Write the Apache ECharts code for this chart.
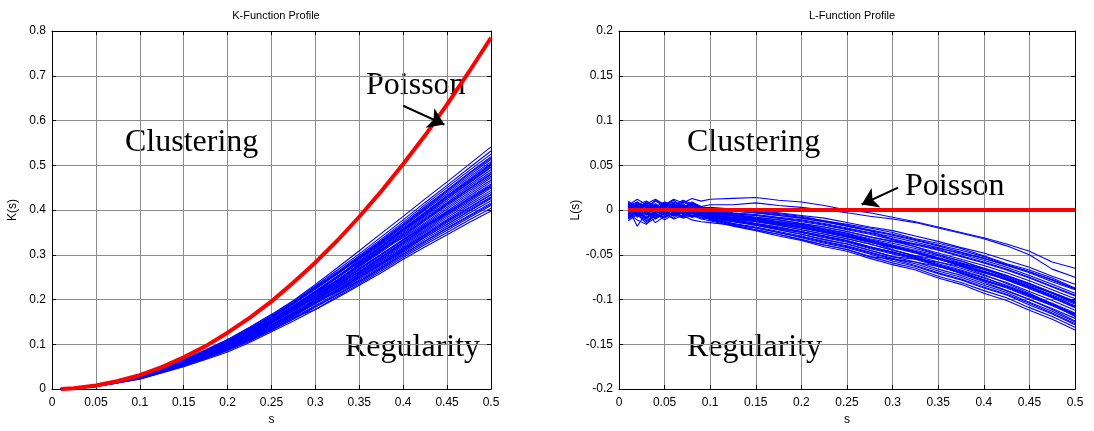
<!DOCTYPE html>
<html><head><meta charset="utf-8">
<script src="https://cdn.jsdelivr.net/npm/echarts/dist/echarts.min.js"></script>
<style>html,body{margin:0;padding:0;background:#fff}#c{width:1094px;height:431px}</style>
</head><body><div id="c"></div><script>
// ---------- K-function data ----------
const kS = [0.01,0.025,0.05,0.075,0.1,0.125,0.15,0.175,0.2,0.225,0.25,0.275,0.3,0.325,0.35,0.375,0.4,0.425,0.45,0.475,0.5];
const kPoisson = [0,.002,.008,.018,.031,.049,.071,.096,.126,.159,.196,.238,.283,.332,.385,.442,.503,.567,.636,.709,.785];
const K01 = [0,.002,.008,.017,.032,.048,.066,.088,.111,.138,.167,.198,.234,.271,.309,.348,.386,.425,.463,.502,.541];
const K02 = [0,.002,.008,.017,.031,.047,.064,.086,.108,.135,.163,.194,.228,.257,.292,.328,.365,.403,.440,.477,.513];
const K03 = [0,.002,.008,.017,.030,.046,.063,.084,.106,.132,.160,.190,.228,.262,.298,.335,.373,.412,.450,.488,.525];
const K04 = [0,.002,.008,.017,.029,.045,.062,.083,.104,.130,.157,.187,.219,.253,.287,.323,.359,.396,.432,.469,.504];
const K05 = [0,.002,.008,.017,.030,.046,.063,.084,.106,.132,.160,.190,.223,.257,.292,.324,.357,.394,.431,.466,.502];
const K06 = [0,.002,.008,.017,.029,.044,.061,.081,.102,.128,.155,.184,.216,.249,.290,.326,.362,.400,.436,.473,.508];
const K07 = [0,.002,.007,.017,.029,.044,.061,.081,.102,.128,.155,.184,.216,.249,.282,.317,.353,.389,.425,.460,.495];
const K08 = [0,.002,.007,.016,.028,.044,.060,.080,.101,.125,.152,.186,.218,.251,.285,.320,.356,.393,.429,.465,.500];
const K09 = [0,.002,.007,.016,.028,.044,.060,.080,.101,.125,.152,.181,.212,.244,.278,.312,.347,.383,.417,.452,.485];
const K10 = [0,.002,.008,.017,.029,.044,.061,.081,.102,.128,.155,.184,.216,.242,.276,.309,.344,.380,.414,.448,.481];
const K11 = [0,.002,.007,.016,.028,.043,.059,.078,.099,.123,.150,.178,.209,.240,.273,.306,.341,.376,.410,.443,.476];
const K12 = [0,.002,.007,.016,.028,.044,.060,.080,.101,.125,.152,.181,.212,.244,.278,.312,.338,.372,.406,.439,.472];
const K13 = [0,.002,.007,.016,.027,.042,.058,.077,.097,.121,.147,.175,.205,.236,.268,.301,.335,.369,.402,.435,.467];
const K14 = [0,.002,.007,.016,.028,.043,.059,.078,.099,.123,.150,.178,.203,.234,.266,.299,.332,.366,.398,.431,.463];
const K15 = [0,.002,.007,.016,.026,.041,.057,.076,.095,.119,.144,.172,.201,.232,.263,.296,.329,.362,.394,.427,.458];
const K16 = [0,.002,.007,.016,.027,.042,.058,.077,.097,.121,.147,.175,.205,.236,.260,.293,.326,.358,.390,.422,.453];
const K17 = [0,.001,.007,.015,.026,.040,.056,.074,.093,.117,.142,.169,.198,.228,.258,.290,.323,.355,.387,.418,.449];
const K18 = [0,.002,.007,.016,.026,.041,.057,.076,.095,.119,.144,.168,.196,.226,.256,.288,.320,.352,.383,.414,.444];
const K19 = [0,.001,.006,.015,.025,.040,.055,.073,.092,.114,.139,.166,.194,.223,.254,.285,.317,.349,.379,.410,.439];
const K20 = [0,.001,.007,.015,.026,.040,.056,.074,.093,.117,.142,.169,.198,.228,.258,.282,.314,.346,.376,.406,.435];
const K21 = [0,.001,.006,.015,.025,.039,.054,.071,.090,.112,.137,.163,.191,.219,.249,.279,.311,.342,.372,.401,.430];
const K22 = [0,.001,.006,.015,.025,.040,.055,.073,.092,.114,.139,.166,.194,.217,.247,.277,.308,.339,.368,.397,.426];
const K23 = [0,.001,.006,.015,.024,.038,.053,.070,.088,.110,.134,.160,.187,.215,.244,.274,.305,.335,.364,.393,.421];
const K24 = [0,.001,.006,.015,.025,.039,.054,.071,.090,.112,.137,.163,.191,.219,.241,.271,.302,.331,.360,.388,.416];
const K25 = [0,.001,.006,.014,.023,.037,.052,.068,.086,.107,.131,.156,.183,.210,.238,.267,.298,.327,.355,.383,.410];
const K26 = [0,.001,.006,.015,.024,.038,.053,.070,.088,.110,.134,.160,.178,.204,.232,.260,.290,.318,.345,.372,.398];
const K27 = [0,.001,.006,.014,.022,.036,.050,.066,.083,.104,.128,.152,.178,.207,.235,.264,.294,.323,.350,.378,.404];
const K28 = [0,.002,.007,.016,.028,.043,.059,.078,.099,.123,.150,.178,.209,.240,.280,.315,.350,.386,.421,.456,.490];
const K29 = [0,.002,.008,.017,.029,.044,.061,.081,.102,.128,.162,.192,.226,.260,.295,.332,.369,.408,.445,.483,.519];
const K30 = [0,.001,.006,.015,.025,.040,.054,.072,.091,.113,.138,.164,.192,.221,.252,.280,.309,.340,.368,.398,.428];
const K31 = [0,.002,.008,.017,.031,.047,.065,.087,.110,.137,.165,.196,.231,.266,.302,.340,.378,.417,.455,.494,.532];
const K32 = [0,.002,.007,.016,.028,.043,.060,.079,.100,.124,.151,.180,.211,.243,.275,.309,.344,.379,.413,.447,.480];
const K33 = [0,.002,.007,.016,.027,.041,.056,.075,.094,.118,.143,.171,.200,.231,.262,.294,.328,.361,.392,.422,.452];
const K34 = [0,.001,.006,.015,.025,.039,.055,.072,.091,.113,.138,.165,.193,.221,.251,.282,.313,.345,.375,.404,.434];
const K35 = [0,.001,.006,.014,.023,.037,.052,.069,.087,.108,.132,.158,.185,.212,.241,.270,.301,.331,.359,.386,.413];
const K36 = [0,.002,.007,.017,.028,.044,.061,.080,.102,.127,.154,.183,.215,.248,.283,.318,.355,.390,.426,.462,.497];
const K37 = [0,.002,.007,.016,.027,.042,.058,.077,.097,.121,.148,.176,.206,.238,.270,.302,.333,.364,.395,.425,.455];
const K38 = [0,.002,.008,.017,.030,.046,.063,.085,.107,.133,.161,.192,.225,.259,.294,.330,.367,.405,.443,.481,.516];
const kSims = [K01,K02,K03,K04,K05,K06,K07,K08,K09,K10,K11,K12,K13,K14,K15,K16,K17,K18,K19,K20,
  K21,K22,K23,K24,K25,K26,K27,K28,K29,K30,K31,K32,K33,K34,K35,K36,K37,K38];

// ---------- L-function data ----------
const lS = [0.01,0.02,0.03,0.04,0.05,0.06,0.07,0.08,0.09,0.10,0.125,0.15,0.175,0.2,0.225,0.25,0.275,0.3,0.325,0.35,0.375,0.4,0.425,0.45,0.475,0.5];
const lPoisson = [0,0,0,0,0,0,0,0,0,0,0,0,0,0,0,0,0,0,0,0,0,0,0,0,0,0];
const L01 = [.005,-.003,.008,.002,.006,0,.009,.004,.002,.003,.001,-.001,-.003,-.006,-.009,-.014,-.019,-.023,-.029,-.035,-.042,-.048,-.056,-.064,-.074,-.083];
const L02 = [-.002,.006,.001,.010,.004,.007,.002,.008,.003,.001,0,-.002,-.004,-.007,-.012,-.016,-.020,-.025,-.032,-.037,-.043,-.051,-.060,-.067,-.076,-.087];
const L03 = [.008,-.004,.003,-.001,.007,.003,.010,.005,.001,.002,-.001,-.003,-.006,-.009,-.013,-.018,-.023,-.028,-.034,-.040,-.047,-.054,-.062,-.070,-.080,-.089];
const L04 = [-.006,.002,-.009,-.003,.004,-.002,.005,.001,-.001,0,-.003,-.005,-.008,-.011,-.015,-.020,-.025,-.030,-.036,-.042,-.049,-.056,-.064,-.073,-.083,-.093];
const L05 = [.003,.009,0,.006,-.002,.004,.001,.007,.002,-.002,-.004,-.006,-.009,-.013,-.017,-.022,-.027,-.033,-.039,-.045,-.052,-.059,-.067,-.076,-.086,-.096];
const L06 = [-.009,-.001,-.012,-.005,.002,-.003,.003,-.001,-.004,-.002,-.005,-.008,-.011,-.015,-.019,-.024,-.030,-.035,-.041,-.048,-.055,-.062,-.070,-.079,-.089,-.099];
const L07 = [.007,0,.005,-.004,.003,.008,-.001,.004,0,-.003,-.006,-.009,-.013,-.016,-.021,-.026,-.032,-.037,-.043,-.050,-.057,-.065,-.073,-.082,-.092,-.102];
const L08 = [-.003,.004,-.002,.005,-.005,.001,.006,-.002,.002,-.004,-.007,-.010,-.014,-.018,-.023,-.028,-.034,-.040,-.046,-.053,-.060,-.068,-.076,-.085,-.095,-.105];
const L09 = [.004,-.008,-.002,-.010,-.004,.002,-.003,.003,-.002,-.005,-.008,-.011,-.015,-.019,-.024,-.029,-.035,-.041,-.047,-.054,-.061,-.069,-.077,-.086,-.096,-.107];
const L10 = [-.001,.007,.003,-.003,.006,-.001,.004,0,-.003,-.006,-.009,-.012,-.016,-.020,-.025,-.030,-.036,-.042,-.048,-.055,-.062,-.070,-.078,-.088,-.098,-.109];
const L11 = [.006,-.002,-.008,0,-.006,.003,-.004,.001,-.005,-.006,-.010,-.013,-.017,-.022,-.027,-.032,-.038,-.045,-.051,-.058,-.065,-.073,-.081,-.091,-.101,-.112];
const L12 = [-.005,.003,.007,-.002,.001,-.006,.002,-.003,-.001,-.007,-.011,-.015,-.019,-.024,-.029,-.034,-.041,-.047,-.053,-.061,-.068,-.076,-.084,-.094,-.104,-.115];
const L13 = [.002,-.018,-.003,-.014,-.007,-.003,-.008,-.002,-.006,-.008,-.012,-.016,-.021,-.025,-.031,-.036,-.043,-.049,-.055,-.063,-.070,-.079,-.087,-.097,-.107,-.118];
const L14 = [-.008,0,-.005,.002,-.004,-.009,-.001,-.006,-.003,-.008,-.013,-.017,-.022,-.027,-.033,-.038,-.045,-.052,-.058,-.066,-.073,-.082,-.090,-.100,-.110,-.121];
const L15 = [.009,.002,-.003,.004,-.001,.002,-.005,-.003,-.007,-.009,-.015,-.019,-.024,-.029,-.035,-.040,-.047,-.054,-.060,-.068,-.075,-.084,-.092,-.103,-.113,-.125];
const L16 = [-.004,-.011,-.016,-.004,-.008,-.002,-.007,-.004,-.009,-.010,-.016,-.020,-.025,-.031,-.037,-.042,-.049,-.057,-.063,-.071,-.078,-.087,-.095,-.106,-.116,-.128];
const L17 = [.001,.005,-.004,-.008,-.003,-.006,-.001,-.008,-.005,-.011,-.017,-.022,-.027,-.033,-.039,-.044,-.052,-.059,-.065,-.074,-.081,-.090,-.098,-.109,-.119,-.131];
const L18 = [-.007,-.002,-.009,-.004,-.011,-.005,-.009,-.006,-.010,-.012,-.018,-.023,-.029,-.034,-.041,-.046,-.054,-.061,-.067,-.076,-.083,-.093,-.101,-.112,-.122,-.134];
const L19 = [0,.008,.004,-.001,.005,.011,.003,.006,.002,-.001,-.005,-.008,-.011,-.015,-.019,-.024,-.030,-.035,-.038,-.043,-.048,-.054,-.061,-.069,-.078,-.088];
const L20 = [.010,.003,.007,.012,.006,.009,.004,.005,.002,.001,-.001,-.003,-.006,-.009,-.013,-.018,-.023,-.033,-.041,-.050,-.057,-.065,-.073,-.082,-.092,-.102];
const L21 = [-.010,-.004,-.013,-.006,-.002,-.007,0,-.004,-.006,-.007,-.010,-.013,-.017,-.022,-.027,-.032,-.038,-.045,-.051,-.055,-.060,-.066,-.074,-.083,-.093,-.103];
const L22 = [.002,-.006,.001,.007,0,.004,-.003,.002,-.002,-.004,-.006,-.009,-.013,-.016,-.021,-.026,-.035,-.044,-.052,-.060,-.067,-.075,-.085,-.095,-.106,-.116];
const L23 = [-.006,.003,-.002,-.007,-.001,-.005,.001,-.006,-.008,-.010,-.013,-.017,-.022,-.027,-.033,-.038,-.045,-.052,-.055,-.058,-.063,-.070,-.077,-.086,-.097,-.108];
const L24 = [.005,.012,.006,.001,.008,.003,.007,0,-.002,-.005,-.008,-.011,-.015,-.019,-.024,-.029,-.035,-.041,-.047,-.054,-.063,-.072,-.082,-.093,-.105,-.119];
const L25 = [-.012,-.005,-.015,-.009,-.004,-.010,-.006,-.011,-.013,-.014,-.017,-.022,-.027,-.033,-.039,-.044,-.052,-.055,-.058,-.063,-.070,-.078,-.086,-.095,-.105,-.116];
const L26 = [.003,-.004,.002,-.005,-.009,-.003,-.007,-.002,-.006,-.008,-.011,-.015,-.019,-.024,-.029,-.034,-.041,-.047,-.053,-.062,-.071,-.080,-.090,-.100,-.111,-.124];
const L27 = [.004,.009,.003,.011,.006,.012,.008,.013,.010,.012,.013,.014,.011,.009,.005,0,-.003,-.008,-.013,-.019,-.025,-.031,-.038,-.046,-.058,-.065];
const L28 = [-.002,.006,.010,.004,.009,.005,.011,.007,.004,.006,.006,.008,.005,.003,0,-.003,-.007,-.010,-.014,-.020,-.026,-.032,-.040,-.050,-.066,-.075];
const L29 = [.004,-.005,.006,-.002,.008,.001,-.004,.006,.003,-.001,-.004,-.006,-.009,-.012,-.016,-.021,-.026,-.032,-.038,-.044,-.051,-.058,-.066,-.075,-.085,-.095];
const L30 = [-.004,.002,-.006,.005,-.001,.004,-.005,.002,-.004,-.005,-.009,-.012,-.016,-.020,-.025,-.030,-.036,-.041,-.048,-.055,-.062,-.069,-.078,-.087,-.097,-.108];
const L31 = [.006,-.007,.001,-.009,.003,-.004,-.002,-.007,-.003,-.008,-.012,-.016,-.020,-.025,-.030,-.035,-.042,-.048,-.054,-.062,-.069,-.078,-.086,-.096,-.106,-.117];
const L32 = [-.009,-.003,-.010,-.001,-.006,.001,-.004,-.008,-.006,-.010,-.015,-.020,-.025,-.030,-.036,-.041,-.048,-.055,-.062,-.070,-.077,-.086,-.094,-.104,-.115,-.127];
const L33 = [.006,.001,.009,.003,-.001,.006,.002,.009,.004,.002,-.001,-.003,-.005,-.008,-.012,-.017,-.022,-.027,-.033,-.039,-.045,-.052,-.061,-.069,-.078,-.088];
const L34 = [-.005,.005,-.001,.003,-.003,.006,.002,-.003,.003,-.003,-.006,-.010,-.013,-.017,-.022,-.027,-.033,-.039,-.045,-.051,-.059,-.066,-.075,-.084,-.093,-.104];
const lSims = [L01,L02,L03,L04,L05,L06,L07,L08,L09,L10,L11,L12,L13,L14,L15,L16,L17,
  L18,L19,L20,L21,L22,L23,L24,L25,L26,L27,L28,L29,L30,L31,L32,L33,L34];

// ---------- axis ranges / texts ----------
const sTicks = {min: 0, max: 0.5, interval: 0.05};
const kTicks = {min: 0, max: 0.8, interval: 0.1};
const lTicks = {min: -0.2, max: 0.2, interval: 0.05};
const titles = ['K-Function Profile', 'L-Function Profile'];
const yNames = ['K(s)', 'L(s)'];

const FONT = '"Liberation Sans", Arial, sans-serif';
const SERIF = '"Liberation Serif", "Times New Roman", serif';
const fmt = v => String(Math.round(v * 1000) / 1000);

function mainAxis(gi, range, extra, margin) {
  return Object.assign({
    gridIndex: gi, type: 'value', min: range.min, max: range.max, interval: range.interval,
    axisLine: {show: true, onZero: false, lineStyle: {color: '#000', width: 1}},
    axisTick: {show: true, inside: true, length: 4, lineStyle: {color: '#000'}},
    axisLabel: {show: true, color: '#000', fontSize: 12, fontFamily: FONT, margin: margin, formatter: fmt},
    splitLine: {show: true, lineStyle: {color: '#8c8c8c', width: 1}}
  }, extra);
}
function boxAxis(gi, range, pos) {
  return {
    gridIndex: gi, type: 'value', position: pos, min: range.min, max: range.max, interval: range.interval,
    axisLine: {show: true, onZero: false, lineStyle: {color: '#000', width: 1}},
    axisTick: {show: true, inside: true, length: 4, lineStyle: {color: '#000'}},
    axisLabel: {show: false}, splitLine: {show: false}
  };
}
const nameStyle = {color: '#000', fontSize: 12, fontFamily: FONT};

const series = [];
kSims.forEach(a => series.push({
  type: 'line', xAxisIndex: 0, yAxisIndex: 0, data: kS.map((s, i) => [s, a[i]]),
  symbol: 'none', lineStyle: {color: '#0000ff', width: 1.1}, silent: true, z: 2
}));
series.push({
  type: 'line', xAxisIndex: 0, yAxisIndex: 0, data: kS.map((s, i) => [s, kPoisson[i]]),
  symbol: 'none', lineStyle: {color: '#ff0000', width: 4}, silent: true, z: 3,
  markLine: {
    silent: true, symbol: ['none', 'arrow'], symbolSize: 16, animation: false,
    label: {show: false}, lineStyle: {color: '#000', width: 2, type: 'solid'},
    data: [[{coord: [0.400, 0.633]}, {coord: [0.447, 0.591]}]]
  }
});
lSims.forEach(a => series.push({
  type: 'line', xAxisIndex: 2, yAxisIndex: 2, data: lS.map((s, i) => [s, a[i]]),
  symbol: 'none', lineStyle: {color: '#0000ff', width: 1.1}, silent: true, z: 2
}));
series.push({
  type: 'line', xAxisIndex: 2, yAxisIndex: 2, data: lS.map((s, i) => [s, lPoisson[i]]),
  symbol: 'none', lineStyle: {color: '#ff0000', width: 4}, silent: true, z: 3,
  markLine: {
    silent: true, symbol: ['none', 'arrow'], symbolSize: 16, animation: false,
    label: {show: false}, lineStyle: {color: '#000', width: 2, type: 'solid'},
    data: [[{coord: [0.306, 0.025]}, {coord: [0.266, 0.0062]}]]
  }
});

const annot = (text, left, top) => ({type: 'text', left, top, silent: true,
  style: {text, fill: '#000', font: '32px ' + SERIF}});

const chart = echarts.init(document.getElementById('c'), null, {renderer: 'canvas'});
chart.setOption({
  animation: false,
  backgroundColor: '#fff',
  title: [
    {text: titles[0], left: 271, top: 5, textAlign: 'center', textStyle: {fontSize: 11, fontWeight: 'normal', color: '#000', fontFamily: FONT}},
    {text: titles[1], left: 847, top: 5, textAlign: 'center', textStyle: {fontSize: 11, fontWeight: 'normal', color: '#000', fontFamily: FONT}}
  ],
  grid: [
    {left: 52, top: 31, width: 439, height: 364, containLabel: false},
    {left: 619, top: 31, width: 456, height: 364, containLabel: false}
  ],
  xAxis: [
    mainAxis(0, sTicks, {name: 's', nameLocation: 'middle', nameGap: 19, nameTextStyle: nameStyle}, 8),
    boxAxis(0, sTicks, 'top'),
    mainAxis(1, sTicks, {name: 's', nameLocation: 'middle', nameGap: 19, nameTextStyle: nameStyle}, 8),
    boxAxis(1, sTicks, 'top')
  ],
  yAxis: [
    mainAxis(0, kTicks, {name: yNames[0], nameLocation: 'middle', nameGap: 33, nameTextStyle: nameStyle}, 6),
    boxAxis(0, kTicks, 'right'),
    mainAxis(1, lTicks, {name: yNames[1], nameLocation: 'middle', nameGap: 33, nameTextStyle: nameStyle}, 6),
    boxAxis(1, lTicks, 'right')
  ],
  graphic: [
    annot('Clustering', 125, 127),
    annot('Poisson', 366, 70),
    annot('Regularity', 345, 332),
    annot('Clustering', 687, 127),
    annot('Poisson', 905, 171),
    annot('Regularity', 687, 332)
  ],
  series
});
</script></body></html>
